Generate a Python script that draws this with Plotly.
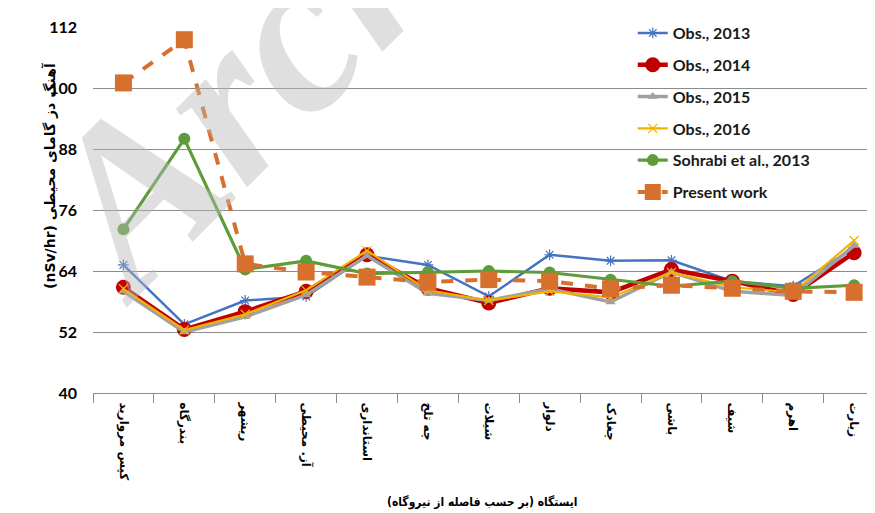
import plotly.graph_objects as go

stations = [
    "کپس مروارید",
    "بندرگاه",
    "ریشهر",
    "آز. محیطی",
    "استانداری",
    "چه تلخ",
    "شیلات",
    "دلوار",
    "چغادک",
    "باشی",
    "شیف",
    "اهرم",
    "زیارت",
]

obs_2013 = [65.2, 53.5, 58.2, 59.0, 67.0, 65.2, 59.0, 67.2, 66.0, 66.1, 62.0, 61.0, 68.5]
obs_2014 = [60.8, 52.5, 56.0, 60.0, 67.2, 60.6, 57.7, 60.6, 59.8, 64.3, 62.0, 59.4, 67.6]
obs_2015 = [60.0, 52.0, 55.0, 59.3, 67.0, 59.6, 58.2, 60.5, 57.9, 63.8, 60.0, 59.2, 69.0]
obs_2016 = [60.5, 52.4, 55.5, 60.2, 68.0, 60.2, 58.2, 60.0, 58.8, 63.7, 60.8, 59.8, 70.0]
sohrabi_2013 = [72.2, 90.0, 64.3, 66.0, 63.5, 63.7, 64.0, 63.7, 62.3, 61.0, 62.0, 60.6, 61.2]
present_work = [101.0, 109.5, 65.4, 63.8, 62.8, 61.8, 62.3, 62.0, 60.5, 61.2, 60.6, 60.0, 59.8]

y_ticks = [40, 52, 64, 76, 88, 100, 112]

x_title = "ایستگاه (بر حسب فاصله از نیروگاه)"
y_title = "(nSv/hr) آهنگ دز گامای محیطی"

fig = go.Figure()

series = [
    ("Obs., 2013", obs_2013, dict(color="#4472C4", width=2.5),
     dict(symbol="asterisk-open", size=9, color="#4472C4", line=dict(color="#5B86D6", width=1.2))),
    ("Obs., 2014", obs_2014, dict(color="#C00000", width=4.5),
     dict(symbol="circle", size=15, color="#C00000", line=dict(width=0))),
    ("Obs., 2015", obs_2015, dict(color="#A0A0A0", width=3.5),
     dict(symbol="triangle-up", size=9, color="#A0A0A0", line=dict(width=0))),
    ("Obs., 2016", obs_2016, dict(color="#F2B200", width=2.2),
     dict(symbol="x-thin-open", size=9, color="#F2B200", line=dict(color="#F2B200", width=1.2))),
    ("Sohrabi et al., 2013", sohrabi_2013, dict(color="#5E9C3A", width=3.2),
     dict(symbol="circle", size=12, color="#5E9C3A", line=dict(width=0))),
    ("Present work", present_work, dict(color="#D6702C", width=4, dash="dash"),
     dict(symbol="square", size=17, color="#D6702C", line=dict(width=0))),
]

for i, (name, vals, line, marker) in enumerate(series):
    fig.add_trace(go.Scatter(
        x=stations, y=vals, name=name, mode="lines+markers",
        line=line, marker=marker, legendgroup=f"g{i}", cliponaxis=False,
    ))

grid = "#8C8C8C"
fig.update_xaxes(
    type="category", range=[-0.5, 12.31], showgrid=False,
    showline=True, linecolor=grid, linewidth=1,
    ticks="outside", tickson="boundaries", ticklen=9, tickcolor=grid,
    tickangle=90, ticklabelstandoff=6,
    tickfont=dict(family="DejaVu Sans", size=12, color="#000000", weight="bold"),
)
fig.update_yaxes(
    range=[40, 112], tickvals=y_ticks, showgrid=True, gridcolor=grid, gridwidth=1,
    zeroline=False, showline=False, ticks="",
    tickfont=dict(family="Lato", size=16, color="#000000", weight="bold"),
    ticklabelstandoff=15,
)

fig.add_annotation(
    text=x_title, xref="paper", yref="paper", x=0.4987, y=-0.3005,
    xanchor="center", yanchor="middle", showarrow=False,
    font=dict(family="DejaVu Sans Condensed", size=12, color="#000000", weight="bold"),
)
fig.add_annotation(
    text=y_title, xref="paper", yref="paper", x=-0.0551, y=0.593,
    xanchor="center", yanchor="middle", showarrow=False, textangle=-90,
    font=dict(family="DejaVu Sans", size=14, color="#000000", weight="bold"),
)

# watermark
fig.add_annotation(
    text="Archive of SID", xref="paper", yref="paper",
    x=-0.146, y=0.128, xanchor="left", yanchor="bottom", showarrow=False,
    textangle=-45,
    font=dict(family="Liberation Serif", size=230, color="rgba(185,185,185,0.45)",
              weight="bold", style="italic"),
)

fig.update_layout(
    width=867, height=505,
    margin=dict(l=85, r=2, t=19, b=120),
    paper_bgcolor="white", plot_bgcolor="white",
    showlegend=True,
    legend=dict(
        x=0.692, y=1.030, xanchor="left", yanchor="top",
        bgcolor="rgba(0,0,0,0)", tracegroupgap=8, traceorder="grouped",
        font=dict(family="Lato", size=16, color="#1A1A1A", weight="bold"),
    ),
)

fig.write_html("out.html")
